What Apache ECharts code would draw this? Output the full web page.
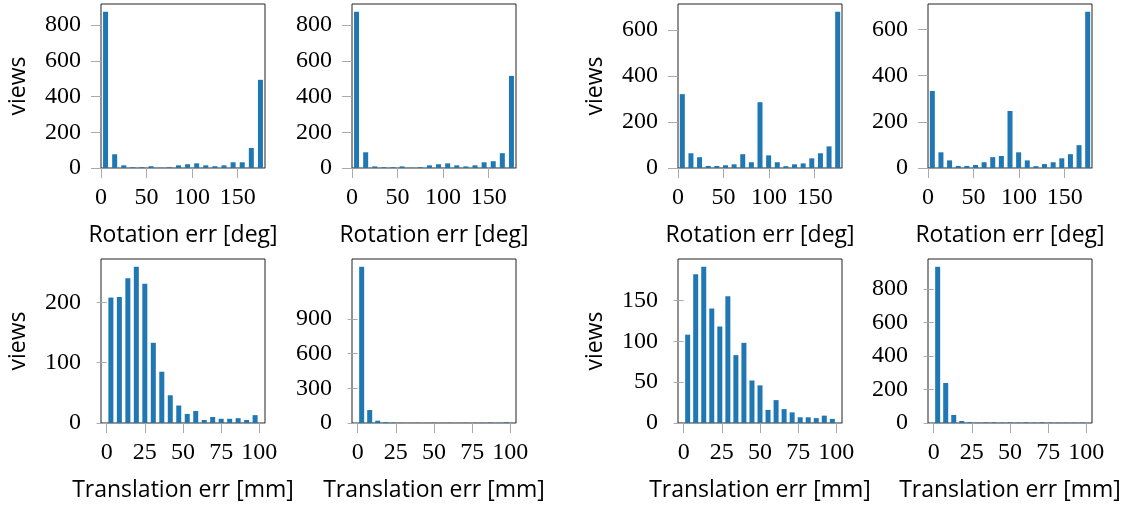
<!DOCTYPE html>
<html>
<head>
<meta charset="utf-8">
<script src="https://cdn.jsdelivr.net/npm/echarts@6/dist/echarts.min.js"></script>
<style>
  html, body { margin: 0; padding: 0; background: #fff; }
  #chart { width: 1131px; height: 506px; }
</style>
</head>
<body>
<div id="chart"></div>
<script>
// bin centres (deg / mm)
const rotCenters18 = [5, 15, 25, 35, 45, 55, 65, 75, 85, 95, 105, 115, 125, 135, 145, 155, 165, 175];
const rotCenters19 = [4.74, 14.21, 23.68, 33.16, 42.63, 52.11, 61.58, 71.05, 80.53, 90.0,
  99.47, 108.95, 118.42, 127.89, 137.37, 146.84, 156.32, 165.79, 175.26];
const transCenters18 = [2.78, 8.33, 13.89, 19.44, 25.0, 30.56, 36.11, 41.67, 47.22, 52.78,
  58.33, 63.89, 69.44, 75.0, 80.56, 86.11, 91.67, 97.22];
const transCenters19 = [2.63, 7.89, 13.16, 18.42, 23.68, 28.95, 34.21, 39.47, 44.74, 50.0,
  55.26, 60.53, 65.79, 71.05, 76.32, 81.58, 86.84, 92.11, 97.37];

// views per bin
const rotA = [875, 77, 15, 4, 4, 10, 1, 4, 15, 21, 26, 15, 10, 15, 32, 32, 112, 494];
const rotB = [875, 88, 9, 4, 4, 9, 1, 4, 15, 21, 26, 15, 9, 15, 32, 38, 83, 516];
const rotC = [321, 64, 47, 9, 9, 12, 16, 60, 25, 286, 55, 25, 8, 16, 20, 42, 64, 94, 679];
const rotD = [334, 68, 33, 9, 9, 13, 25, 47, 52, 247, 68, 33, 8, 17, 25, 42, 60, 99, 677];
const transA = [208, 209, 240, 259, 231, 133, 85, 46, 29, 15, 20, 5, 10, 7, 7, 8, 5, 13];
const transB = [1350, 112, 20, 8, 3, 2, 1, 2, 1, 2, 1, 2, 1, 2, 1, 2, 5, 1, 6];
const transC = [108, 182, 191, 140, 118, 155, 83, 98, 52, 46, 16, 28, 17, 13, 7, 7, 6, 9, 5];
const transD = [933, 239, 48, 12, 5, 2, 4, 4, 2, 4, 2, 4, 2, 4, 2, 2, 2, 2, 2];

// tick labels
const rotTicks = [0, 50, 100, 150];
const transTicks = [0, 25, 50, 75, 100];
const yTicks800 = [0, 200, 400, 600, 800];
const yTicks600 = [0, 200, 400, 600];
const yTicks200 = [0, 100, 200];
const yTicks900 = [0, 300, 600, 900];
const yTicks150 = [0, 50, 100, 150];

const rotName = 'Rotation err [deg]';
const transName = 'Translation err [mm]';
const yName = 'views';

const panels = [
  { xs: rotCenters18, ys: rotA, xt: rotTicks, yt: yTicks800, rot: true, views: true },
  { xs: rotCenters18, ys: rotB, xt: rotTicks, yt: yTicks800, rot: true, views: false },
  { xs: rotCenters19, ys: rotC, xt: rotTicks, yt: yTicks600, rot: true, views: true },
  { xs: rotCenters19, ys: rotD, xt: rotTicks, yt: yTicks600, rot: true, views: false },
  { xs: transCenters18, ys: transA, xt: transTicks, yt: yTicks200, rot: false, views: true },
  { xs: transCenters19, ys: transB, xt: transTicks, yt: yTicks900, rot: false, views: false },
  { xs: transCenters19, ys: transC, xt: transTicks, yt: yTicks150, rot: false, views: true },
  { xs: transCenters19, ys: transD, xt: transTicks, yt: yTicks800, rot: false, views: false }
];

const lefts = [101, 352, 678, 928];
const tops = [4, 259];
const boxSize = 164;

const numFont = 'Liberation Serif';
const nameFont = 'Open Sans';

const chart = echarts.init(document.getElementById('chart'));

const grid = [], xAxis = [], yAxis = [], series = [];
panels.forEach((p, i) => {
  grid.push({
    left: lefts[i % 4],
    top: tops[Math.floor(i / 4)],
    width: boxSize,
    height: boxSize,
    show: true,
    borderColor: '#222',
    borderWidth: 1,
    backgroundColor: 'transparent'
  });
  xAxis.push({
    type: 'value',
    gridIndex: i,
    min: p.rot ? 0 : -3.7,
    max: p.rot ? 180 : 103.7,
    name: p.rot ? rotName : transName,
    nameLocation: 'middle',
    nameGap: 56,
    nameTextStyle: { fontFamily: nameFont, fontSize: 23, color: '#000' },
    axisLine: { show: true, lineStyle: { color: '#999', width: 1 } },
    axisTick: { show: true, length: 10, lineStyle: { color: '#aaa', width: 1 }, customValues: p.xt },
    axisLabel: { customValues: p.xt, margin: 18, fontFamily: numFont, fontSize: 24, color: '#000' },
    splitLine: { show: false }
  });
  yAxis.push({
    type: 'value',
    gridIndex: i,
    min: 0,
    max: Math.max(...p.ys) * 1.05,
    name: p.views ? yName : '',
    nameLocation: 'middle',
    nameGap: 71,
    nameTextStyle: { fontFamily: nameFont, fontSize: 23, color: '#000' },
    axisLine: { show: false },
    axisTick: { show: true, length: 10, lineStyle: { color: '#aaa', width: 1 }, customValues: p.yt },
    axisLabel: { customValues: p.yt, margin: 20, fontFamily: numFont, fontSize: 24, color: '#000' },
    splitLine: { show: false }
  });
  series.push({
    type: 'bar',
    xAxisIndex: i,
    yAxisIndex: i,
    barWidth: 5,
    silent: true,
    itemStyle: { color: '#1f77b4' },
    data: p.xs.map((x, k) => [x, p.ys[k]])
  });
});

chart.setOption({
  animation: false,
  grid: grid,
  xAxis: xAxis,
  yAxis: yAxis,
  series: series
});
</script>
</body>
</html>
